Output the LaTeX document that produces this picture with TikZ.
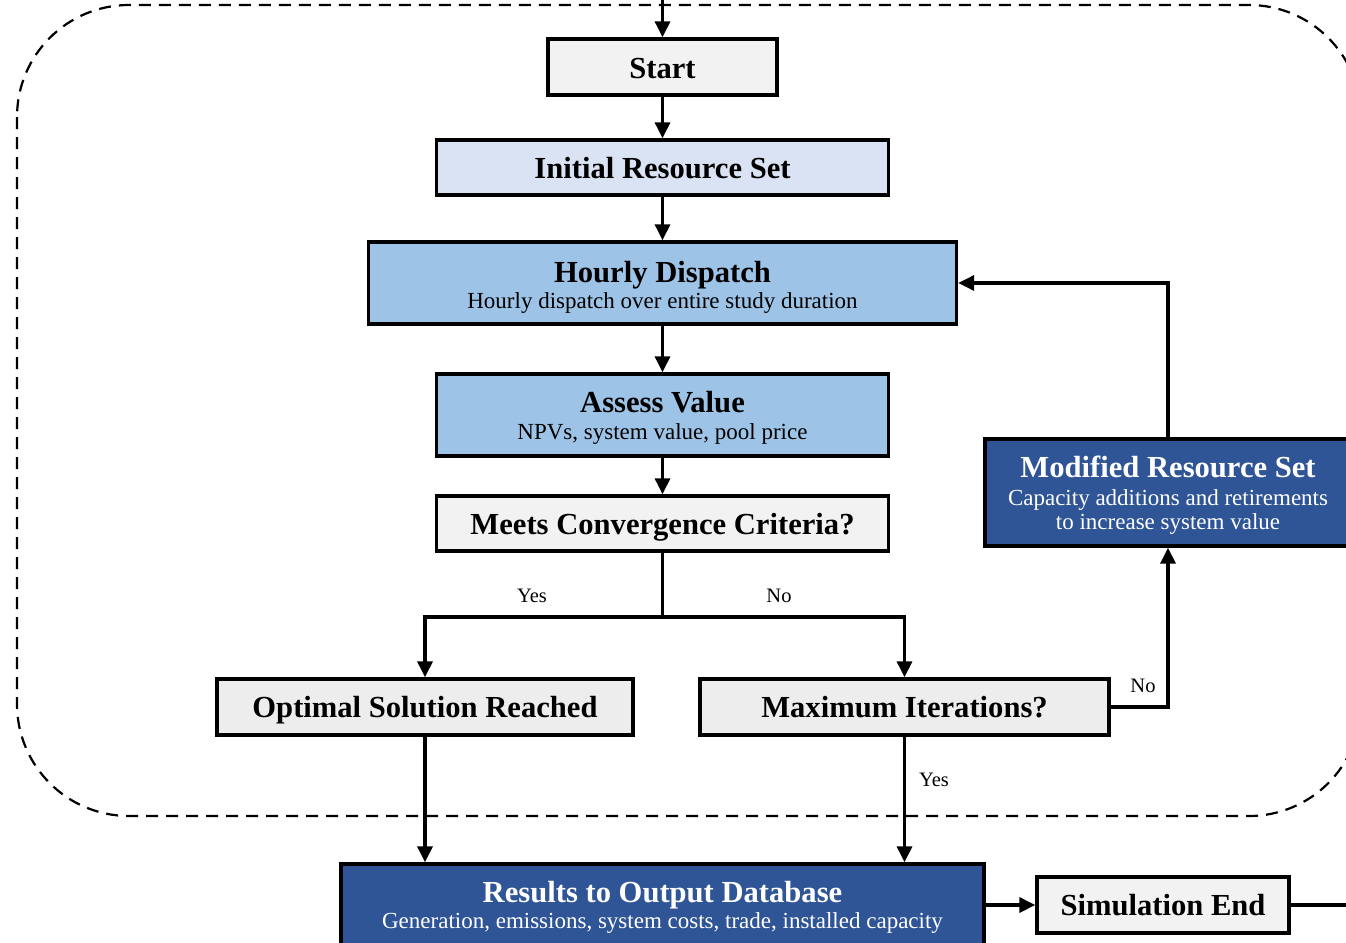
\documentclass[tikz,border=0pt]{standalone}
\usepackage{fontspec}
\setmainfont{Liberation Serif}
\usetikzlibrary{arrows.meta}
\definecolor{gbox}{HTML}{F2F2F2}
\definecolor{gboxb}{HTML}{EDEDED}
\definecolor{lblue}{HTML}{DAE3F3}
\definecolor{mblue}{HTML}{9DC3E6}
\definecolor{dblue}{HTML}{2F5597}
\tikzset{
  box/.style={draw=black, line width=3.3pt, rectangle, inner sep=0pt},
  ttl/.style={anchor=base, inner sep=0pt, font=\fontsize{30.6pt}{34pt}\selectfont\bfseries},
  sub/.style={anchor=base, inner sep=0pt, font=\fontsize{23pt}{26pt}\selectfont},
  lbl/.style={anchor=base, inner sep=0pt, font=\fontsize{20.5pt}{23pt}\selectfont},
  conn/.style={line width=3.2pt},
  arr/.style={line width=3.2pt, -{Triangle[width=15pt,length=16pt]}},
  dashbox/.style={line width=2.2pt, dash pattern=on 12pt off 8pt, rounded corners=112pt}
}
\begin{document}
\begin{tikzpicture}[x=1pt,y=-1pt]
\useasboundingbox (0,0) rectangle (1346,942);
\clip (0,0) rectangle (1346,942);
\fill[white] (0,0) rectangle (1346,942);
% dashed boundary
\draw[dashbox] (17,5) rectangle (1361,816);
% boxes
\node[box, fill=gbox, minimum width=229pt, minimum height=56pt] (start) at (662.5,67) {};
\node[box, fill=lblue, minimum width=452pt, minimum height=55pt] (init) at (662.5,167.5) {};
\node[box, fill=mblue, minimum width=588pt, minimum height=82pt] (hourly) at (662.5,283) {};
\node[box, fill=mblue, minimum width=452pt, minimum height=82pt] (assess) at (662.5,415) {};
\node[box, fill=gbox, minimum width=452pt, minimum height=55pt] (meets) at (662.5,523.5) {};
\node[box, fill=gboxb, minimum width=416pt, minimum height=56pt] (optimal) at (425,707) {};
\node[box, fill=gboxb, minimum width=409pt, minimum height=56pt] (maxit) at (904.5,707) {};
\node[box, fill=dblue, minimum width=366pt, minimum height=107pt] (modified) at (1168,492.5) {};
\node[box, fill=dblue, minimum width=643pt, minimum height=82pt] (results) at (662.5,905) {};
\node[box, fill=gbox, minimum width=252pt, minimum height=56pt] (simend) at (1163,905) {};
% texts
\node[ttl] (tstart) at (662.5,78) {Start};
\node[ttl] (tinit) at (662.5,178) {Initial Resource Set};
\node[ttl] (thourly) at (662.5,282) {Hourly Dispatch};
\node[sub] (shourly) at (662.5,308) {Hourly dispatch over entire study duration};
\node[ttl] (tassess) at (662.5,412) {Assess Value};
\node[sub] (sassess) at (662.5,439) {NPVs, system value, pool price};
\node[ttl] (tmeets) at (662.5,534) {Meets Convergence Criteria?};
\node[ttl] (toptimal) at (425,717) {Optimal Solution Reached};
\node[ttl] (tmaxit) at (904.5,717) {Maximum Iterations?};
\node[ttl, text=white] (tmod) at (1168,477) {Modified Resource Set};
\node[sub, text=white] (smod1) at (1168,505) {Capacity additions and retirements};
\node[sub, text=white] (smod2) at (1168,529) {to increase system value};
\node[ttl, text=white] (tres) at (662.5,902) {Results to Output Database};
\node[sub, text=white] (sres) at (662.5,928) {Generation, emissions, system costs, trade, installed capacity};
\node[ttl] (tsim) at (1163,915) {Simulation End};
% connectors
\coordinate (entry) at (662.5,-10);
\coordinate (split) at (662.5,617);
\coordinate (exitr) at (1360,905);
\draw[arr] (entry) -- (start.north);
\draw[arr] (start.south) -- (init.north);
\draw[arr] (init.south) -- (hourly.north);
\draw[arr] (hourly.south) -- (assess.north);
\draw[arr] (assess.south) -- (meets.north);
\draw[conn] (meets.south) -- (split);
\draw[arr] (split) -| (optimal.north);
\draw[arr] (split) -| (maxit.north);
\draw[arr] (optimal.south) -- (optimal.south |- results.north);
\draw[arr] (maxit.south) -- (maxit.south |- results.north);
\draw[arr] (maxit.east) -| (modified.south);
\draw[arr] (modified.north) |- (hourly.east);
\draw[arr] (results.east) -- (simend.west);
\draw[conn] (simend.east) -- (exitr);
% labels
\node[lbl] (lyes1) at (532,602) {Yes};
\node[lbl] (lno1) at (779,602) {No};
\node[lbl] (lyes2) at (934,786) {Yes};
\node[lbl] (lno2) at (1143,692) {No};
\end{tikzpicture}
\end{document}
